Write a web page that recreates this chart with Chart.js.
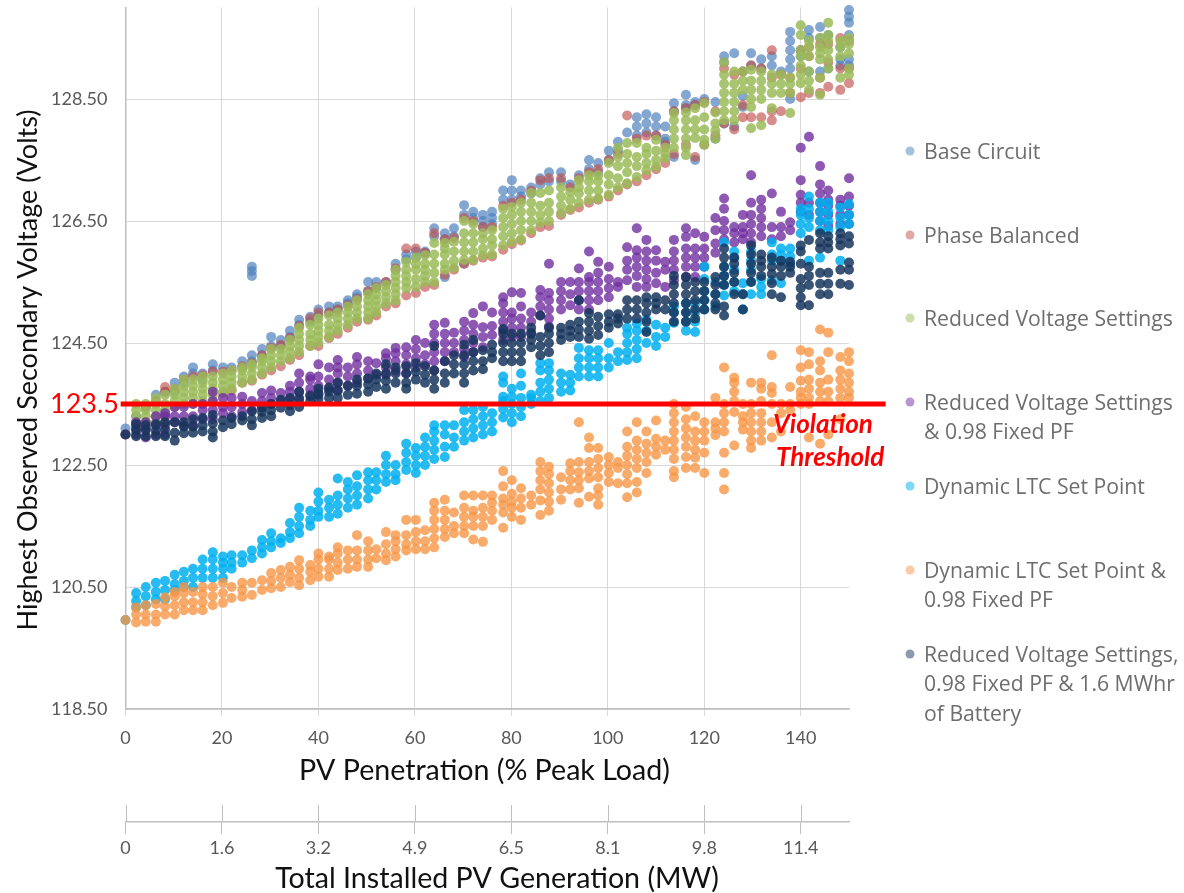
<!DOCTYPE html>
<html>
<head>
<meta charset="utf-8">
<title>Highest Observed Secondary Voltage</title>
<script src="https://cdn.jsdelivr.net/npm/chart.js@4"></script>
<style>
  html, body { margin: 0; padding: 0; background: #fff; }
  #wrap { position: relative; width: 1184px; height: 893px; }
</style>
</head>
<body>
<div id="wrap"><canvas id="chart" width="1184" height="893"></canvas></div>
<script>
'use strict';

/* #################### data #################### */
const penetration = [0,
  2.2, 4.2, 6.3, 8.2, 10.2, 12.1, 14, 16, 18.1, 20.2, 22, 24.2, 26.2, 28.3, 30.2,
  32.2, 34.1, 36, 38.3, 40, 42.2, 44, 46.1, 48, 50.3, 52, 54, 56, 58.2, 60.2,
  62.1, 64, 66.2, 68.1, 70.2, 72.1, 74.1, 76, 78.3, 80.1, 82, 84.1, 86, 87.8, 90.3,
  92.2, 94, 96.1, 98, 100.2, 102.1, 104, 106, 108, 110, 111.9, 113.7, 116.2, 118.1, 120,
  122.3, 124.1, 126.2, 128, 129.7, 131.8, 134, 135.9, 137.8, 140, 141.7, 144, 145.7, 148.2, 150];

const baseCircuit = [[123.1],
  [123.3],[123.45],[123.65],[123.7],[123.85,123.7],[123.95,123.85],[124.1,124],[124,123.9],[124.15,124.05],[124.1],
  [124.1],[124.2,124.1],[124.3,124.2,125.6,125.68,125.75],[124.4,124.3],[124.6,124.45],
  [124.55,124.45],[124.7,124.6],[124.88,124.8],[124.93,124.85],[125.05,124.95],[125.1,125],[125.1,125.05],[125.2,125.15],[125.3,125.25],[125.5,125.35],
  [125.5,125.4],[125.5],[125.8,125.7],[125.95,125.87],[126,125.9],
  [126,125.97],[126.38,126.25],[126.3,126.2,125.58],[126.38,126.25],[126.76,126.6,125.8],[126.65,126.55],[126.6,126.5,126.4],[126.65,126.55,126.45],[127,126.85],[127.17,127,126.85],
  [127,126.9],[127.05,126.95],[127.2,127.1],[127.3,127.15],[127.3,127.15],
  [127.1],[127.25],[127.5,127.35],[127.45,127.3],[127.65,127.5],[127.8,127.65],[127.95],[128.2,128.05,127.9],[128.25,128.1,127.95],[128.2,128.05,127.9],
  [128.05,127.85,127.8],[128.43,128.3,127.55],[128.57,128.4,128.35],[128.45,128.4,127.5],[128.5],
  [128.45,127.85],[129.2,129.1,128.1],[129.25,128.05],[128.95,128.37,128.55],[129.25,129.05],[129.15,129],[129.2,129.05],[128.95],[129.6,129.45,129.3,129.15,129,128.5],[129.3,129.2],
  [129.63,129.5,128.95],[129.68,129.5,128.95],[129.55,129],[129.35,129.15,129.05],[129.96,129.85,129.75,129.55,129.15,129.05]];

const phaseBalanced = [[],
  [123.15],[123.45],[123.55],[123.78,123.7],[123.75],[123.9],[123.95],[123.97],[124.03],[123.68,124.03],
  [123.72,124.05],[123.85,124.12],[123.88,124.17],[123.98,124.3],[124.05,124.42],
  [124.12,124.47],[124.22,124.58],[124.3,124.78],[124.45,124.9],[124.45,125],[124.58,125],[124.65,125.05],[124.75,125.12],[124.85,125.22],[124.88,125.35],
  [124.95,125.42],[125.1,125.5],[125.15,125.72],[125.28,126.05],[125.32,126.05],
  [125.42,125.98],[125.45,126.3],[125.62,126.2],[125.7,126.22],[125.8,126.55],[125.85,126.5],[125.9,126.4],[125.92,126.4],[126.03,126.75],[126.12,126.8],
  [126.18,126.85],[126.3,127],[126.4,127.17],[126.42,127.2],[126.6,127.2],
  [126.68,127.05],[126.72,127.2],[126.8,127.3],[126.85,127.35],[126.9,127.5],[127,127.6],[127.1,128.23],[127.15,127.85],[127.25,127.9],[127.35,127.9],
  [127.45,127.75],[127.6,128.3],[127.75,128.35],[127.55,128.4],[127.75,128.45],
  [127.9,128.3],[128.1,129],[128,128.9],[128.2,128.4,128.95],[128.2,129.05],[128.2,129],[128.15,128.3,128.85,129.3],[128.3,128.9],[128.6,128.85],[128.53,129,129.3],
  [128.6,129.2,129.35],[128.6,128.85,129.4],[128.7,129.1,129.4],[128.65,129,129.5],[128.76,129,129.45]];

const reducedVoltage = [[123],
  [123.1,123.2,123.3,123.4,123.5],[123.1,123.2,123.3,123.4,123.5],[123.2,123.3,123.4,123.5,123.6],[123.2,123.3,123.4,123.5,123.65],[123.45,123.55,123.65,123.75],
  [123.5,123.6,123.7,123.8,123.9],[123.5,123.6,123.7,123.8,123.9],[123.55,123.65,123.75,123.85,123.95],[123.55,123.65,123.75,123.85,123.95],[123.7,123.8,123.9,124],
  [123.75,123.85,123.95,124.05],[123.85,123.95,124.05,124.1],[123.9,124,124.1,124.15],[124,124.1,124.2,124.25],[124.1,124.2,124.3,124.4],
  [124.2,124.3,124.4],[124.25,124.35,124.45,124.55],[124.35,124.45,124.55,124.65,124.75],[124.45,124.55,124.65,124.8],[124.5,124.6,124.7,124.8,124.9],
  [124.6,124.7,124.8,124.95],[124.7,124.8,124.9,125],[124.8,124.9,125,125.1],[124.9,125,125.1,125.2],[124.9,125,125.1,125.2,125.3],
  [125,125.1,125.2,125.3,125.4],[125.15,125.25,125.35,125.45],[125.2,125.3,125.4,125.5,125.6,125.7],[125.4,125.5,125.6,125.7,125.83],[125.42,125.55,125.7,125.8,125.9],
  [125.5,125.6,125.7,125.8,125.94],[125.5,125.65,125.8,125.95,126.14],[125.7,125.8,125.95,126.05,126.14],[125.73,125.85,126,126.16],[125.86,126,126.15,126.3,126.5],
  [125.86,126,126.15,126.3,126.45],[125.94,126.05,126.2,126.3],[125.95,126.1,126.2,126.35],[126.1,126.25,126.4,126.55,126.7],[126.16,126.3,126.45,126.6,126.73],
  [126.2,126.35,126.5,126.65,126.8],[126.35,126.5,126.65,126.8,126.96],[126.47,126.6,126.75,126.96],[126.5,126.65,126.8,127],[126.63,126.75,126.9,127.05],
  [126.7,126.85,126.97],[126.8,126.95,127.05,127.17],[126.85,127,127.15,127.25],[126.87,127,127.15,127.25],[126.93,127.1,127.25,127.45],
  [127.05,127.2,127.4,127.55,127.7],[127.12,127.3,127.45,127.6,127.78],[127.22,127.4,127.55,127.78],[127.33,127.45,127.6,127.7],[127.39,127.5,127.65,127.83],
  [127.53,127.6,127.7],[127.7,127.85,128,128.15,128.27],[127.58,127.7,127.85,128,128.15,128.28],[127.86,128,128.15,128.35],[127.75,127.83,128,128.2,128.43],
  [127.85,127.98,128.1,128.28],[128.15,128.3,128.45,128.6,128.75,128.9,129.1],[128.15,128.3,128.45,128.6,128.75,128.95],[128.65,128.8,128.95],[128.02,128.37,128.5,128.65,128.8,128.98],
  [128.07,128.5,128.65,128.8,128.95],[128.35,128.6,128.75,128.9],[128.6,128.75,128.9],[128.27,128.6,128.75,128.85],[128.76,128.9,129.05,129.2,129.3,129.55,129.71],
  [128.65,128.8,128.95,129.2,129.35,129.45],[128.57,128.85,129.15,129.25,129.35,129.5],[129,129.15,129.3,129.45,129.55,129.75],[128.85,129.2,129.35,129.45],[128.9,129,129.25,129.4,129.5]];

const reducedPf = [[123],
  [123,123.1,123.2],[122.95,123.1,123.2],[123,123.15,123.3],[123,123.15,123.3,123.35],[123.2,123.3,123.45],
  [123.15,123.3,123.45],[123.15,123.3,123.5],[123.25,123.4,123.5],[123.25,123.4,123.55,123.7],[123.35,123.45,123.6],
  [123.3,123.45,123.6],[123.37,123.5,123.62],[123.4,123.55],[123.45,123.55,123.68],[123.5,123.6,123.72],
  [123.55,123.68],[123.57,123.7,123.8],[123.6,123.7,123.85,124],[123.65,123.75,123.9,123.95],[123.65,123.8,123.95,124.15],
  [123.75,123.9,124.1],[123.72,123.85,124,124.1,124.22],[123.8,123.95,124.1],[123.85,124,124.15,124.27],[123.92,124.05,124.2],
  [123.98,124.17],[123.98,124.1,124.25,124.33],[124.05,124.2,124.33,124.42],[124,124.15,124.3,124.43],[124.1,124.25,124.4,124.55],
  [124.15,124.3,124.5],[124.05,124.2,124.35,124.5,124.65,124.8],[124.2,124.35,124.5,124.65,124.83],[124.35,124.5,124.67],[124.27,124.4,124.55,124.7,124.85],
  [124.35,124.5,124.65,124.8,124.99],[124.43,124.6,124.76,125.1],[124.63,124.78,125],[124.55,124.7,124.85,125,125.15,125.25],[124.6,124.75,124.9,125,125.33],
  [124.6,124.75,124.9,125.1,125.32],[124.67,124.85,125],[124.95,125.1,125.25,125.37],[124.77,124.9,125.05,125.2,125.32,125.8],[125.05,125.2,125.35,125.5],
  [125.12,125.3,125.5],[125.05,125.2,125.35,125.5,125.72],[125.05,125.2,125.35,125.5,125.58,126],[125.2,125.35,125.5,125.65,125.83],[125.25,125.4,125.55,125.75],
  [125.42,125.5],[125.53,125.7,125.85,126.07],[125.42,125.6,125.75,125.9,126.02,126.38],[125.42,125.55,125.7,125.85,126,126.19],[125.48,125.65,125.85,126.02],
  [125.42,125.7,125.83],[125.53,125.7,125.85,126,126.19],[125.58,125.75,125.9,126.05,126.24,126.38],[125.58,125.75,125.9,126.05,126.3],[125.75,125.9,126.05,126.24],
  [125.98,126.13,126.35,126.55],[126.2,126.35,126.5,126.7,126.87],[126.15,126.3,126.4],[126.2,126.3,126.4,126.6],[126.15,126.3,126.45,126.6,126.8,127.25],
  [126.25,126.4,126.55,126.7,126.85],[126.2,126.4,126.95],[126.25,126.4,126.65],[126.35,126.48],[126.65,126.8,126.93,127.17,127.7],
  [126.6,126.8,127.88],[126.5,126.65,126.8,126.95,127.1,127.4],[126.42,126.6,126.75,126.85,127],[126.45,126.6,126.75,126.85],[126.45,126.6,126.75,126.9,127.2]];

const dynamicLtc = [[119.96],
  [120.17,120.27,120.4],[120.2,120.35,120.5],[120.3,120.42,120.57],[120.3,120.45,120.6],[120.45,120.55,120.7],
  [120.5,120.6,120.75],[120.5,120.65,120.8],[120.65,120.8,120.95],[120.65,120.8,120.95,121.07],[120.65,120.8,120.9,121],
  [120.8,120.9,121.02],[120.9,121.02],[120.97,121.1],[121.05,121.15,121.27],[121.15,121.25,121.38],
  [121.22,121.3],[121.3,121.4,121.55],[121.38,121.5,121.65,121.8],[121.5,121.6,121.75],[121.65,121.75,121.9,122.05],
  [121.65,121.8,121.93],[121.7,121.85,122,122.28],[121.8,121.95,122.1,122.22],[121.85,122,122.15,122.33],[121.95,122.1,122.25,122.38],
  [122.1,122.25,122.38],[122.22,122.35,122.5,122.65],[122.25,122.35,122.5],[122.42,122.55,122.7,122.85],[122.37,122.5,122.65,122.78],
  [122.5,122.65,122.8,122.95],[122.6,122.75,122.9,123.05,123.15],[122.63,122.8,123,123.15],[122.8,122.95,123.15],[122.9,123.05,123.2,123.4],
  [122.95,123.1,123.25,123.4],[123,123.15,123.3,123.45],[123.05,123.2,123.35],[123.28,123.42,123.55,123.62,123.85,123.95],[123.2,123.35,123.5,123.62,123.75],
  [123.3,123.45,123.6,123.8,124],[123.5,123.6,123.65],[123.55,123.7,123.85,124.05,124.17],[123.6,123.75,123.9,124.05,124.17],[123.7,123.85,124],
  [123.72,123.85,123.98],[123.95,124.1,124.25,124.42],[123.95,124.1,124.25,124.38],[123.95,124.1,124.25,124.38],[124.1,124.25,124.5],
  [124.2,124.35],[124.22,124.35,124.5,124.65,124.75],[124.25,124.4,124.55,124.7,124.82],[124.5,124.7,124.88],[124.45,124.6,124.8],
  [124.6,124.75],[124.83,125,125.1],[124.7,124.85,125,125.15],[124.68,124.85,125,125.15],[125.05,125.2,125.35,125.55,125.75],
  [125.1,125.3,125.5],[125.28,125.45,125.6,125.75,126.15],[125.35,125.5,125.7,125.9,126],[125.05,125.3,125.48],[125.3,125.5,125.7,125.85,126],
  [125.3,125.42,125.55],[125.53,125.85,125.95,126.15],[125.48,125.85,125.95,126.05],[125.8,125.92,126.05],[126.3,126.45,126.6,126.7],
  [125.85,126.4,126.55,126.7,126.9],[125.9,126.35,126.5,126.65,126.8],[126.35,126.5,126.65,126.8],[125.85,126.4,126.55,126.72],[126.45,126.6,126.78]];

const dynamicPf = [[119.96],
  [119.92,120.05,120.17],[119.93,120.05,120.2],[119.93,120.05,120.22],[120.05,120.18,120.33],[120.05,120.2,120.35,120.42],
  [120.12,120.25,120.4,120.5],[120.12,120.25,120.42],[120.12,120.25,120.38,120.5],[120.2,120.35,120.5],[120.24,120.4,120.57],
  [120.32,120.5],[120.34,120.45,120.57],[120.37,120.57],[120.45,120.61],[120.48,120.6,120.73],
  [120.5,120.65,120.78],[120.58,120.7,120.83],[120.53,120.65,120.8,120.94],[120.61,120.75,120.86],[120.67,120.8,120.95,121.05],
  [120.67,120.8,120.95,121],[120.78,120.9,121.05,121.15],[120.8,120.95,121.1],[120.83,120.95,121.1,121.35],[120.83,120.95,121.1,121.25],
  [120.97,121.12],[120.94,121.05,121.2,121.4],[121,121.12,121.25,121.35],[121.1,121.2,121.35,121.6],[121.12,121.25,121.4,121.6],
  [121.12,121.25,121.43],[121.15,121.3,121.45,121.6,121.75,121.88],[121.32,121.45,121.6,121.75,121.93],[121.38,121.5,121.72],[121.38,121.5,121.65,121.8,122],
  [121.28,121.5,121.65,121.75,122],[121.24,121.5,121.65,121.8,122],[121.6,121.75,121.88,122],[121.47,121.72,121.85,121.95,122.15,122.4],[121.65,121.8,121.9,122.03,122.25],
  [121.6,121.8,121.95,122.12],[121.85,122],[121.68,121.92,122.1,122.25,122.4,122.55],[121.75,121.9,122.05,122.2,122.35,122.47],[121.93,122.1,122.3],
  [122.1,122.25,122.4,122.53],[121.88,122.12,122.25,122.38,122.55,123.2],[121.98,122.28,122.4,122.55,122.78,122.95],[121.85,122,122.12,122.3,122.45,122.6,122.78],[122.22,122.37,122.5,122.63],
  [122.2,122.45,122.55],[121.97,122.2,122.35,122.5,122.65,122.8,123.05],[122.05,122.22,122.45,122.6,122.75,122.9,123.2],[122.37,122.55,122.7,122.85,123.05],[122.67,122.8,122.93,123.23],
  [122.75,122.9],[122.3,122.4,122.6,122.75,122.9,123.05,123.2,123.35,123.5],[122.45,122.63,122.8,122.95,123.1,123.25,123.45],[122.45,122.62,122.75,122.9,123.05,123.3],[122.37,122.7,122.9,123.05,123.2],
  [122.99,123.1,123.2,123.6],[122.1,122.37,122.7,123.05,123.2,123.35,123.5,124.1],[122.82,123.37,123.55,123.7,123.85,123.93],[123.08,123.2,123.3,123.5],[122.78,122.9,123.05,123.2,123.35,123.5,123.85],
  [122.9,123.05,123.2,123.35,123.55,123.75,123.85],[122.95,123.2,123.5,123.68,123.78,124.3],[123.05,123.35,123.5],[123.4,123.5,123.78],[123.5,123.6,123.7,123.88,124.1,124.38],
  [122.95,123.5,123.6,123.75,123.9,124.15,124.35],[122.85,123.55,123.7,123.85,124.05,124.2,124.72],[123,123.55,123.7,123.9,124.35,124.67],[123.25,123.6,123.75,123.9,124.05,124.27],[123.6,123.7,123.85,124,124.2,124.35]];

const batteryCase = [[123],
  [122.97,123.07,123.17],[122.97,123.07,123.15],[122.97,123.07,123.17],[122.97,123.08,123.2],[122.9,123.03,123.2],
  [123.02,123.13,123.2],[123.03,123.13,123.25],[123.05,123.15,123.27],[122.95,123.05,123.18,123.32],[123.12,123.23],
  [123.17,123.27],[123.23,123.3],[123.15,123.25,123.38],[123.27,123.37,123.44],[123.3,123.4,123.5],
  [123.44,123.57],[123.38,123.48,123.6],[123.45,123.57,123.7],[123.55,123.63],[123.58,123.67,123.75],
  [123.6,123.7,123.77],[123.6,123.72,123.85],[123.65,123.8],[123.67,123.8,123.9],[123.7,123.82,123.92],
  [123.78,123.9,124],[123.75,123.88,124,124.15],[123.85,124,124.1],[123.75,123.85,124,124.12],[123.9,124.03,124.17],
  [123.85,123.98,124.12],[123.75,123.9,124.05,124.45],[123.85,124,124.2],[124,124.15,124.3],[123.85,124,124.15,124.3,124.47],
  [124.05,124.2,124.35,124.55],[124.07,124.2,124.38],[124.25,124.35,124.47],[124.2,124.35,124.5,124.65,124.73],[124.2,124.35,124.5,124.65],
  [124.2,124.35,124.5,124.65],[124.43,124.55,124.65,124.75],[124.3,124.45,124.6,124.95],[124.35,124.5,124.65,124.75],[124.55,124.65,124.75],
  [124.6,124.7,124.8],[124.6,124.72,124.85,125.2],[124.57,124.7,124.85,124.99],[124.63,124.78,124.93],[124.75,124.85,124.97],
  [124.82,124.9,124.97],[124.9,125.05,125.2],[124.9,125.05,125.2],[124.68,124.85,125,125.15,125.25],[125.05,125.15,125.25],
  [125.05,125.2],[124.85,125,125.15,125.3,125.45,125.6],[124.85,125,125.15,125.3,125.45,125.58],[124.9,125.05,125.2,125.35,125.5],[125.05,125.2,125.35,125.5],
  [125.05,125.15,125.3,125.45,125.58],[124.95,125.1,125.45,125.6,125.75,125.9,126.05],[125.3,125.5,125.65,125.8,125.9],[125.05,125.3],[125.5,125.65,125.8,125.95,126.1],
  [125.6,125.75,125.85,125.95],[125.3,125.48,125.63,125.75,125.9],[125.25,125.6,125.75,125.85],[125.65,125.75,125.83],[125.12,125.25,125.4,125.55,125.8,126,126.1],
  [125.12,125.45,125.6,125.75,126.19],[125.3,125.47,125.65,126.05,126.15,126.3],[125.3,125.47,125.65,126.05,126.15,126.25],[125.47,125.7,126.1,126.2,126.3],[125.45,125.7,125.82,126.13,126.25]];

const thresholdX = [-1, 157.6];
const thresholdY = [123.5, 123.5];

const voltageTicks = [118.5, 120.5, 122.5, 124.5, 126.5, 128.5];
const penetrationTicks = [0, 20, 40, 60, 80, 100, 120, 140];
const generationLabels = ['0', '1.6', '3.2', '4.9', '6.5', '8.1', '9.8', '11.4'];

const seriesNames = [
  ['Base Circuit'],
  ['Phase Balanced'],
  ['Reduced Voltage Settings'],
  ['Reduced Voltage Settings', '& 0.98 Fixed PF'],
  ['Dynamic LTC Set Point'],
  ['Dynamic LTC Set Point &', '0.98 Fixed PF'],
  ['Reduced Voltage Settings,', '0.98 Fixed PF & 1.6 MWhr', 'of Battery']
];
const seriesValues = [baseCircuit, phaseBalanced, reducedVoltage, reducedPf, dynamicLtc, dynamicPf, batteryCase];
const seriesColors = [
  'rgba(79,129,189,0.7)', 'rgba(192,80,77,0.65)', 'rgba(155,187,89,0.85)', 'rgba(112,48,160,0.8)',
  'rgba(0,176,240,0.85)', 'rgba(247,150,70,0.8)', 'rgba(23,54,93,0.85)'
];
const legendColors = [
  'rgba(79,129,189,0.5)', 'rgba(192,80,77,0.5)', 'rgba(155,187,89,0.5)', 'rgba(112,48,160,0.5)',
  'rgba(0,176,240,0.5)', 'rgba(247,150,70,0.5)', 'rgba(23,54,93,0.5)'
];

/* #################### helpers #################### */
// one column of voltages per penetration step, flattened into scatter points
function toPoints(columns) {
  let points = [];
  for (let idx = 0; idx < penetration.length; idx++) {
    for (const volts of columns[idx]) {
      points.push({ x: penetration[idx], y: volts });
    }
  }
  return points;
}

const GRID = '#d9d9d9';
const AXIS = '#bfbfbf';
const TICK_TEXT = '#595959';
const TICK_FONT = { family: 'Lato', size: 18 };

/* #################### things Chart.js has no option for #################### */
const extras = {
  id: 'extras',
  afterDatasetsDraw(chart) {
    const ctx = chart.ctx;
    ctx.save();
    ctx.textBaseline = 'middle';

    // axis titles
    ctx.fillStyle = '#111';
    ctx.textAlign = 'center';
    ctx.font = '28.6px Lato';
    ctx.fillText('PV Penetration (% Peak Load)', 484.5, 771);
    ctx.fillText('Total Installed PV Generation (MW)', 497, 879);
    ctx.save();
    ctx.translate(28, 370);
    ctx.rotate(-Math.PI / 2);
    ctx.font = '27px Lato';
    ctx.fillText('Highest Observed Secondary Voltage (Volts)', 0, 0);
    ctx.restore();

    // upper half of the ticks on the generation axis
    const x2 = chart.scales.x2;
    ctx.strokeStyle = AXIS;
    ctx.lineWidth = 1;
    for (const value of penetrationTicks) {
      const px = Math.round(x2.getPixelForValue(value)) + 0.5;
      ctx.beginPath();
      ctx.moveTo(px, 805);
      ctx.lineTo(px, 822);
      ctx.stroke();
    }

    // threshold labels
    ctx.fillStyle = '#ff0000';
    ctx.textAlign = 'left';
    ctx.font = '27px Lato';
    ctx.fillText('123.5', 50, 404);
    ctx.font = 'italic bold 26px Lato';
    ctx.fillText('Violation', 773, 425);
    ctx.fillText('Threshold', 776, 458);

    // legend on the right
    const legendY = [151, 235, 318, 402, 486, 570, 654];
    ctx.font = '21.2px "Open Sans"';
    for (let idx = 0; idx < seriesNames.length; idx++) {
      ctx.fillStyle = legendColors[idx];
      ctx.beginPath();
      ctx.arc(910, legendY[idx], 4.5, 0, Math.PI * 2);
      ctx.fill();
      ctx.fillStyle = '#6e6e6e';
      seriesNames[idx].forEach((line, row) => {
        ctx.fillText(line, 924, legendY[idx] + 1.5 + row * 29.5);
      });
    }
    ctx.restore();
  }
};

/* #################### chart #################### */
let datasets = seriesValues.map((columns, idx) => ({
  label: seriesNames[idx].join(' '),
  data: toPoints(columns),
  backgroundColor: seriesColors[idx],
  borderWidth: 0,
  pointRadius: 5,
  clip: false,
  order: 10 - idx
}));

datasets.push({
  label: 'Violation Threshold',
  data: thresholdX.map((x, idx) => ({ x: x, y: thresholdY[idx] })),
  showLine: true,
  borderColor: '#ff0000',
  borderWidth: 5,
  pointRadius: 0,
  clip: false,
  order: 0
});

new Chart(document.getElementById('chart'), {
  type: 'scatter',
  data: { datasets: datasets },
  plugins: [extras],
  options: {
    responsive: false,
    animation: false,
    layout: { padding: { left: 0, top: 7.5, right: 335, bottom: 0 } },
    plugins: { legend: { display: false }, tooltip: { enabled: false } },
    scales: {
      x: {
        type: 'linear',
        position: 'bottom',
        min: 0,
        max: 150,
        afterBuildTicks(scale) { scale.ticks = penetrationTicks.map(v => ({ value: v })); },
        afterFit(scale) { scale.height = 113; },
        grid: { color: GRID, tickColor: GRID, tickLength: 7, lineWidth: 1 },
        border: { color: AXIS, width: 1.5 },
        ticks: { color: TICK_TEXT, font: TICK_FONT, padding: 11, maxRotation: 0, autoSkip: false }
      },
      x2: {
        type: 'linear',
        position: 'bottom',
        min: 0,
        max: 150,
        afterBuildTicks(scale) { scale.ticks = penetrationTicks.map(v => ({ value: v })); },
        afterFit(scale) { scale.height = 71; },
        grid: { drawOnChartArea: false, color: AXIS, tickColor: AXIS, tickLength: 12 },
        border: { color: AXIS, width: 1.5 },
        ticks: {
          color: TICK_TEXT,
          font: TICK_FONT,
          padding: 3,
          maxRotation: 0,
          autoSkip: false,
          callback(value, idx) { return generationLabels[idx]; }
        }
      },
      y: {
        type: 'linear',
        min: 118.5,
        max: 130,
        afterBuildTicks(scale) { scale.ticks = voltageTicks.map(v => ({ value: v })); },
        afterFit(scale) {
          scale.width = 125.5;
          // labels must not push the plot top down, the scale has to run to 130
          scale.paddingTop = 0;
          scale.paddingBottom = 0;
        },
        grid: { color: GRID, drawTicks: false },
        border: { color: AXIS, width: 1.5 },
        ticks: {
          color: TICK_TEXT,
          font: TICK_FONT,
          padding: 18,
          callback(value) { return value.toFixed(2); }
        }
      }
    }
  }
});
</script>
</body>
</html>
